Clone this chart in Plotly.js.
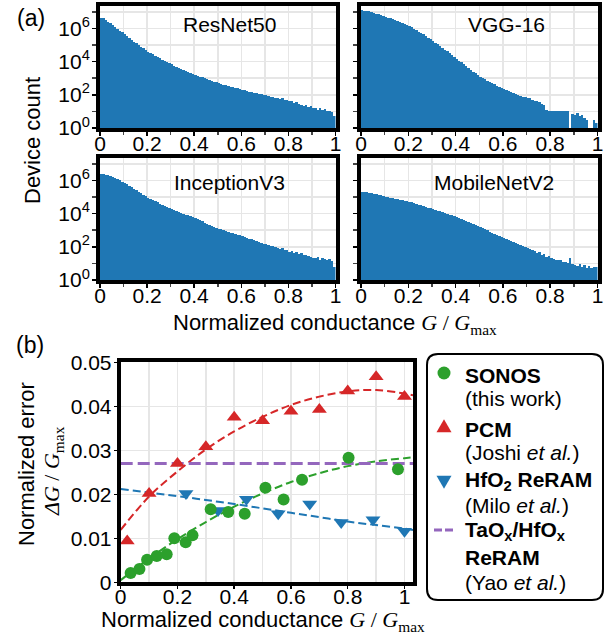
<!DOCTYPE html>
<html>
<head>
<meta charset="utf-8">
<script src="https://cdn.plot.ly/plotly-3.0.1.min.js"></script>
<style>html,body{margin:0;padding:0;background:#fff;}</style>
</head>
<body>
<div id="chart" style="width:616px;height:641px;"></div>
<script>
// ---------- (a) histogram data: device count per bin (100 bins of width 0.01 on [0,1]) ----------
const resnet50Counts = [
 4.2e6,4.0e6,3.3e6,2.6e6,2.0e6,1.6e6,1.23e6,9.5e5,7.4e5,5.8e5,
 4.5e5,3.5e5,2.7e5,2.1e5,1.6e5,1.26e5,9.8e4,7.8e4,6.2e4,4.9e4,
 3.9e4,3.2e4,2.7e4,2.2e4,1.86e4,1.55e4,1.29e4,1.1e4,9300,7900,
 6800,5800,4900,4200,3600,3200,2750,2400,2100,1820,
 1580,1410,1260,1120,1000,890,790,710,630,560,
 500,457,417,380,347,316,288,263,240,219,
 200,186,170,158,145,135,126,115,107,100,
 91,88,76,79,66,68,57,62,50,52,
 44,42,33,36,28,25,20,23,18,21,
 15,17,13,16,12,14,10,11,9,5
];
const vgg16Counts = [
 1.26e7,1.2e7,1.12e7,1.05e7,9.5e6,8.7e6,7.8e6,6.9e6,6.3e6,5.8e6,
 5.0e6,4.5e6,4.0e6,3.5e6,3.2e6,2.8e6,2.45e6,2.1e6,1.86e6,1.62e6,
 1.41e6,1.17e6,9.8e5,7.9e5,6.5e5,5.2e5,4.3e5,3.5e5,2.8e5,2.2e5,
 1.78e5,1.41e5,1.12e5,8.7e4,6.8e4,5.2e4,4.1e4,3.2e4,2.45e4,1.9e4,
 1.48e4,1.15e4,8900,6900,5400,4200,3200,2500,2000,1580,
 1260,1050,870,720,600,500,420,350,295,250,
 214,186,162,141,126,112,100,89,79,71,
 63,60,50,42,40,36,28,26,13,10,
 10,10,10,10,10,10,10,10,0,7,
 6,8,5,6,4,3,0,0,3,2
];
const inceptionV3Counts = [
 2.5e6,2.45e6,2.2e6,2.0e6,1.74e6,1.5e6,1.32e6,1.15e6,1.0e6,8.5e5,
 7.1e5,5.8e5,4.7e5,3.8e5,3.1e5,2.5e5,2.0e5,1.66e5,1.35e5,1.1e5,
 8.9e4,7.6e4,6.5e4,5.5e4,4.7e4,4.0e4,3.5e4,3.0e4,2.6e4,2.3e4,
 2.0e4,1.74e4,1.5e4,1.32e4,1.15e4,1.0e4,8700,7800,6800,6000,
 5200,4600,3900,3400,2900,2500,2200,1900,1660,1450,
 1260,1120,1000,890,790,710,650,590,540,490,
 450,400,355,316,282,251,224,200,178,158,
 141,129,117,107,98,89,70,80,60,66,
 52,58,40,48,36,42,32,30,27,25,
 22,20,23,17,21,18,15,19,14,6
];
const mobileNetV2Counts = [
 2.0e5,2.0e5,1.9e5,1.78e5,1.66e5,1.55e5,1.45e5,1.35e5,1.26e5,1.15e5,
 1.05e5,9.8e4,9.1e4,8.5e4,7.9e4,7.4e4,6.9e4,6.5e4,6.0e4,5.6e4,
 5.2e4,4.8e4,4.4e4,3.9e4,3.5e4,3.2e4,2.8e4,2.6e4,2.3e4,2.1e4,
 1.86e4,1.7e4,1.5e4,1.35e4,1.2e4,1.1e4,9800,8700,7800,7100,
 6500,5600,4900,4300,3700,3200,2750,2400,2100,1780,
 1550,1320,1120,980,830,710,620,520,450,390,
 330,290,250,220,190,166,141,123,107,93,
 81,71,62,58,45,47,33,35,24,27,
 20,19,17,15,16,13,12,11,20,9,
 8,7,9,6,8,5,7,5,6,6
];
const histNames = ["ResNet50", "VGG-16", "InceptionV3", "MobileNetV2"];
const binStart = 0.005, binWidth = 0.01;

// ---------- (b) normalized error data ----------
const sonosX = [0.035,0.066,0.093,0.127,0.162,0.189,0.229,0.253,0.317,0.379,0.437,0.510,0.574,0.639,0.803,0.977];
const sonosY = [0.0021,0.0030,0.0051,0.0060,0.0064,0.0100,0.0091,0.0107,0.0166,0.0160,0.0156,0.0215,0.0188,0.0233,0.0283,0.0257];
const pcmX = [0.023,0.10,0.20,0.30,0.40,0.50,0.60,0.70,0.80,0.90,1.00];
const pcmY = [0.0094,0.0202,0.0270,0.0308,0.0375,0.0367,0.0389,0.0393,0.0435,0.0467,0.0422];
const hfoX = [0.23,0.343,0.443,0.555,0.666,0.777,0.889,1.00];
const hfoY = [0.0202,0.0163,0.0189,0.0156,0.0178,0.0136,0.0142,0.0116];
// dashed fit curves
const fitX = [0,0.1,0.2,0.3,0.4,0.5,0.6,0.7,0.8,0.9,1.0,1.03];
const sonosFitY = [0.0005,0.0054,0.0098,0.0137,0.0172,0.0202,0.0228,0.0248,0.0264,0.0275,0.0282,0.0284];
const pcmFitY = [0.0119,0.0195,0.0252,0.0302,0.0343,0.0376,0.0403,0.0422,0.0434,0.0437,0.0429,0.0425];
const hfoFitY = [0.0212,0.0204,0.0196,0.0187,0.0178,0.0168,0.0158,0.0148,0.0138,0.0130,0.0122,0.0119];
const taoxX = [0, 1.03];
const taoxY = [0.027, 0.027];

const histTickVals = [0,0.2,0.4,0.6,0.8,1];
const histTickText = ["0","0.2","0.4","0.6","0.8","1"];
const logTickVals = [1,1e2,1e4,1e6];
const logTickText = ["10<sup>0</sup>","10<sup>2</sup>","10<sup>4</sup>","10<sup>6</sup>"];
const errTickVals = [0,0.01,0.02,0.03,0.04,0.05];
const errTickText = ["0","0.01","0.02","0.03","0.04","0.05"];

// ---------- layout helpers ----------
const W = 616, H = 641;
const PX = x => x / W;
const PY = y => 1 - y / H;
const FONT = "Liberation Sans, Arial, Helvetica, sans-serif";
const SERIF = "Liberation Serif, Times New Roman, serif";
const BLUE = "#1f77b4", RED = "#d62728", GREEN = "#2ca02c", PURPLE = "#9467bd";
const GRID = "#e6e6e6";

const histCounts = [resnet50Counts, vgg16Counts, inceptionV3Counts, mobileNetV2Counts];
const traces = [];
histCounts.forEach((c, k) => {
  const s = k === 0 ? "" : String(k + 1);
  traces.push({
    type: "bar", x0: binStart, dx: binWidth, y: c,
    xaxis: "x" + s, yaxis: "y" + s,
    marker: {color: BLUE, line: {width: 0}},
    hoverinfo: "skip", showlegend: false
  });
});

function fitTrace(y, color, dash, width) {
  return {type: "scatter", mode: "lines", x: fitX, y: y, xaxis: "x5", yaxis: "y5",
    line: {color: color, dash: dash, width: width, shape: "spline", smoothing: 1},
    showlegend: false, hoverinfo: "skip"};
}
traces.push(fitTrace(hfoFitY, BLUE, "8px,4px", 2));
traces.push(fitTrace(sonosFitY, GREEN, "8px,4px", 2));
traces.push(fitTrace(pcmFitY, RED, "8px,4px", 2));
traces.push({type: "scatter", mode: "lines", x: taoxX, y: taoxY, xaxis: "x5", yaxis: "y5",
  line: {color: PURPLE, dash: "12px,5px", width: 3}, showlegend: false, hoverinfo: "skip"});
traces.push({type: "scatter", mode: "markers", x: hfoX, y: hfoY, xaxis: "x5", yaxis: "y5",
  marker: {symbol: "triangle-down", size: 13, color: BLUE}, showlegend: false});
traces.push({type: "scatter", mode: "markers", x: pcmX, y: pcmY, xaxis: "x5", yaxis: "y5",
  marker: {symbol: "triangle-up", size: 13, color: RED}, showlegend: false});
traces.push({type: "scatter", mode: "markers", x: sonosX, y: sonosY, xaxis: "x5", yaxis: "y5",
  marker: {symbol: "circle", size: 12, color: GREEN}, showlegend: false});

const tickFont = {family: FONT, size: 21, color: "#000"};
function histX(d0, d1, anchor) {
  return {domain: [PX(d0), PX(d1)], anchor: anchor, range: [0, 1], fixedrange: true,
    showline: true, linewidth: 4, linecolor: "#000", mirror: true,
    tickmode: "array", tickvals: histTickVals, ticktext: histTickText,
    ticks: "outside", ticklen: 4, tickwidth: 1.5, tickcolor: "#000", tickfont: tickFont,
    ticklabelstandoff: -10,
    showgrid: true, gridcolor: GRID, gridwidth: 1.5, zeroline: false,
    minor: {tickvals: [0.1,0.3,0.5,0.7,0.9], ticks: "outside", ticklen: 3, tickwidth: 1.5,
      tickcolor: "#444", showgrid: true, gridcolor: GRID, gridwidth: 1.5}};
}
function histY(t, b, anchor, labels) {
  const ax = {domain: [PY(b), PY(t)], anchor: anchor, type: "log", range: [0, 7.35], fixedrange: true,
    showline: true, linewidth: 4, linecolor: "#000", mirror: true,
    tickmode: "array", tickvals: logTickVals, showticklabels: labels,
    ticks: "outside", ticklen: 4, tickwidth: 1.5, tickcolor: "#000", tickfont: tickFont,
    showgrid: true, gridcolor: GRID, gridwidth: 1.5, zeroline: false,
    minor: {tickvals: [10,1e3,1e5,1e7], ticks: "outside", ticklen: 4, tickwidth: 1.5,
      tickcolor: "#444", showgrid: true, gridcolor: GRID, gridwidth: 1.5}};
  if (labels) { ax.ticktext = logTickText; ax.ticklabelstandoff = -2; }
  else { ax.ticktext = ["", "", "", ""]; }
  return ax;
}

const ann = [];
function txt(x, y, text, size, opts) {
  ann.push(Object.assign({xref: "paper", yref: "paper", x: PX(x), y: PY(y), text: text,
    showarrow: false, font: {family: FONT, size: size, color: "#000"},
    xanchor: "center", yanchor: "middle"}, opts || {}));
}
txt(31, 18, "(a)", 23);
txt(30, 345, "(b)", 23);
txt(229, 24, histNames[0], 21);
txt(506, 24, histNames[1], 21);
txt(229, 182, histNames[2], 21);
txt(494, 182, histNames[3], 21);
txt(32, 141, "Device count", 22, {textangle: -90});
const gTxt = "<span style=\"font-family:" + SERIF + "\"><i>G</i> / <i>G</i><sub>max</sub></span>";
txt(335, 324, "Normalized conductance " + gTxt, 22);
txt(263, 621, "Normalized conductance " + gTxt, 22);
txt(26, 464, "Normalized error", 22, {textangle: -90});
txt(53, 471, "<span style=\"font-family:" + SERIF + "\"><i>ΔG</i> / <i>G</i><sub>max</sub></span>", 22, {textangle: -90});

// legend texts
const LX = 463;
const L = (y, t) => txt(LX, y, t, 21, {xanchor: "left"});
L(375, "<b>SONOS</b>");
L(399, "(this work)");
L(429, "<b>PCM</b>");
L(452, "(Joshi <i>et al.</i>)");
L(481, "<b>HfO<sub>2</sub> ReRAM</b>");
L(505, "(Milo <i>et al.</i>)");
L(531, "<b>TaO<sub>x</sub>/HfO<sub>x</sub></b>");
L(557, "<b>ReRAM</b>");
L(582, "(Yao <i>et al.</i>)");

// legend box and symbols (shapes in paper coordinates)
function rrPath(x0, y0, x1, y1, r) {
  const P = (x, y) => PX(x) + "," + PY(y);
  return "M" + P(x0 + r, y0) + " L" + P(x1 - r, y0) + " Q" + P(x1, y0) + " " + P(x1, y0 + r) +
    " L" + P(x1, y1 - r) + " Q" + P(x1, y1) + " " + P(x1 - r, y1) +
    " L" + P(x0 + r, y1) + " Q" + P(x0, y1) + " " + P(x0, y1 - r) +
    " L" + P(x0, y0 + r) + " Q" + P(x0, y0) + " " + P(x0 + r, y0) + " Z";
}
function triPath(cx, cy, s, up) {
  const h = s * 0.866, d = up ? 1 : -1;
  const P = (x, y) => PX(x) + "," + PY(y);
  return "M" + P(cx, cy - d * h * 2 / 3) + " L" + P(cx + s / 2, cy + d * h / 3) + " L" + P(cx - s / 2, cy + d * h / 3) + " Z";
}
const shapes = [
  {type: "path", xref: "paper", yref: "paper", path: rrPath(427, 354, 603, 600, 11),
   line: {color: "#000", width: 2}, fillcolor: "rgba(0,0,0,0)"},
  {type: "circle", xref: "paper", yref: "paper", x0: PX(437.5), x1: PX(450.5), y0: PY(379.5), y1: PY(366.5),
   fillcolor: GREEN, line: {width: 0}},
  {type: "path", xref: "paper", yref: "paper", path: triPath(444, 428, 15, true), fillcolor: RED, line: {width: 0}},
  {type: "path", xref: "paper", yref: "paper", path: triPath(444, 480, 15, false), fillcolor: BLUE, line: {width: 0}},
  {type: "line", xref: "paper", yref: "paper", x0: PX(434), x1: PX(454), y0: PY(530), y1: PY(530),
   line: {color: PURPLE, width: 3, dash: "8px,3px"}}
];

const layout = {
  width: W, height: H, margin: {l: 0, r: 0, t: 0, b: 0},
  paper_bgcolor: "#fff", plot_bgcolor: "#fff",
  font: {family: FONT, size: 21, color: "#000"},
  bargap: 0, showlegend: false,
  xaxis: histX(100, 335.5, "y"),
  yaxis: histY(6, 128, "x", true),
  xaxis2: histX(361, 597.5, "y2"),
  yaxis2: histY(6, 128, "x2", false),
  xaxis3: histX(100, 335.5, "y3"),
  yaxis3: histY(158, 280, "x3", true),
  xaxis4: histX(361, 597.5, "y4"),
  yaxis4: histY(158, 280, "x4", false),
  xaxis5: {domain: [PX(120.7), PX(413)], anchor: "y5", range: [0, 1.03], fixedrange: true,
    showline: true, linewidth: 4, linecolor: "#000", mirror: true,
    tickmode: "array", tickvals: histTickVals, ticktext: histTickText,
    ticks: "outside", ticklen: 3, tickwidth: 1.5, tickcolor: "#000", tickfont: tickFont,
    ticklabelstandoff: -11,
    showgrid: true, gridcolor: GRID, gridwidth: 1.5, zeroline: false,
    minor: {tickvals: [0.1,0.3,0.5,0.7,0.9], showgrid: true, gridcolor: GRID, gridwidth: 1.5}},
  yaxis5: {domain: [PY(582.3), PY(362.3)], anchor: "x5", range: [0, 0.05], fixedrange: true,
    showline: true, linewidth: 4, linecolor: "#000", mirror: true,
    tickmode: "array", tickvals: errTickVals, ticktext: errTickText,
    ticks: "outside", ticklen: 3, tickwidth: 1.5, tickcolor: "#000", tickfont: tickFont,
    ticklabelstandoff: -2,
    showgrid: true, gridcolor: GRID, gridwidth: 1.5, zeroline: false},
  annotations: ann,
  shapes: shapes
};

Plotly.newPlot("chart", traces, layout, {staticPlot: true, displayModeBar: false});
</script>
</body>
</html>
